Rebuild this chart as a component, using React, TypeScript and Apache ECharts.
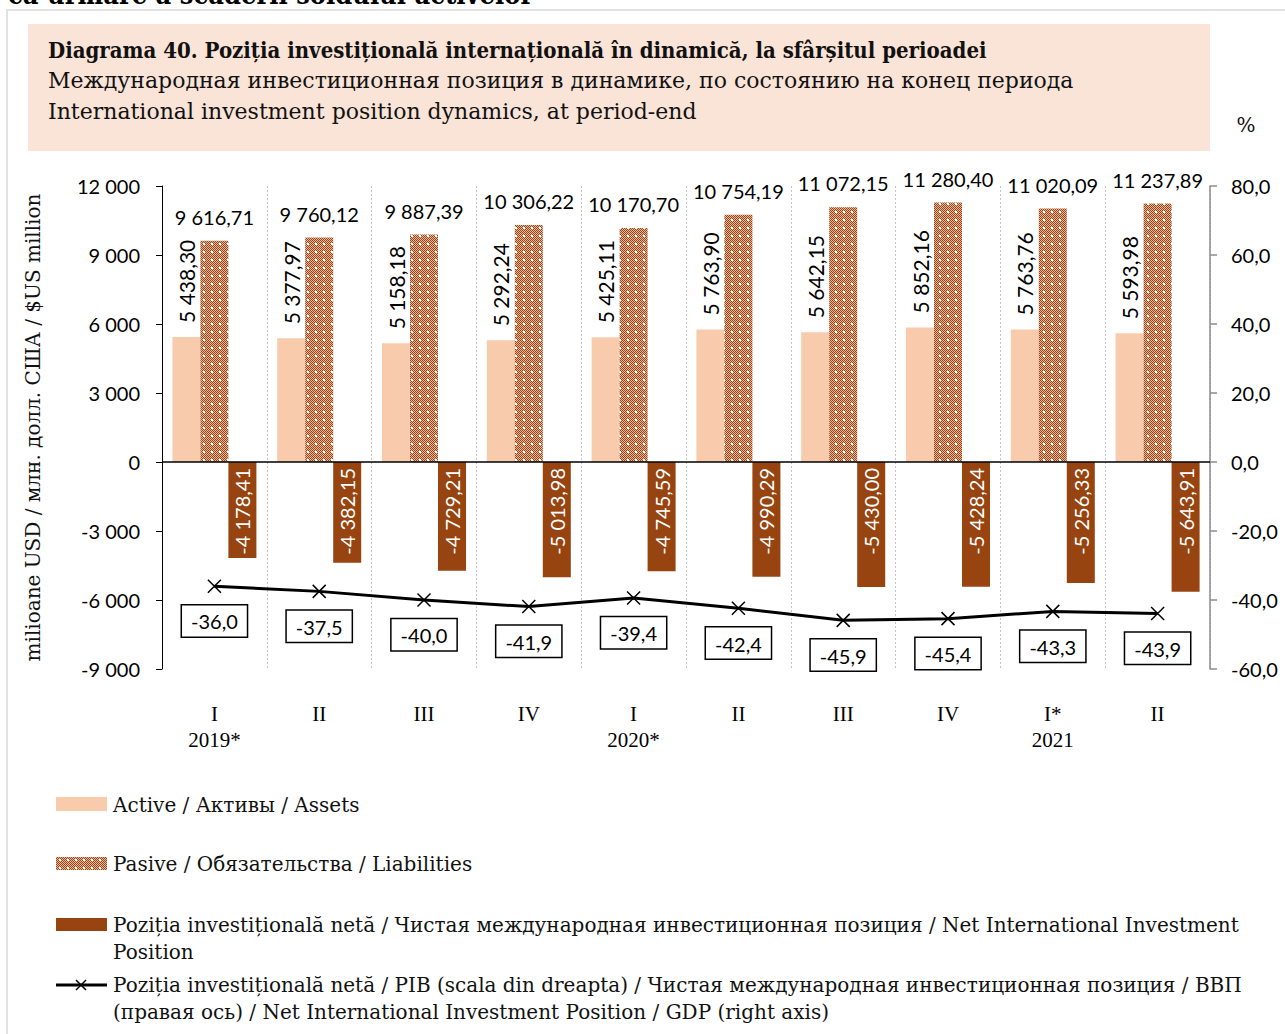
import React, { useEffect, useRef } from "react";
import * as echarts from "echarts";

const categories = ["I\n2019*", "II", "III", "IV", "I\n2020*", "II", "III", "IV", "I*\n2021", "II"];
const assets = [5438.3, 5377.97, 5158.18, 5292.24, 5425.11, 5763.9, 5642.15, 5852.16, 5763.76, 5593.98];
const liabilities = [9616.71, 9760.12, 9887.39, 10306.22, 10170.7, 10754.19, 11072.15, 11280.4, 11020.09, 11237.89];
const netPosition = [-4178.41, -4382.15, -4729.21, -5013.98, -4745.59, -4990.29, -5430.0, -5428.24, -5256.33, -5643.91];
const ratioGdp = [-36.0, -37.5, -40.0, -41.9, -39.4, -42.4, -45.9, -45.4, -43.3, -43.9];

const titleLines = [
  "Diagrama 40. Poziția investițională internațională în dinamică, la sfârșitul perioadei",
  "Международная инвестиционная позиция в динамике, по состоянию на конец периода",
  "International investment position dynamics, at period-end",
];
const seriesNames = [
  "Active / Активы / Assets",
  "Pasive / Обязательства / Liabilities",
  "Poziția investițională netă / Чистая международная инвестиционная позиция / Net International Investment\nPosition",
  "Poziția investițională netă / PIB (scala din dreapta) / Чистая международная инвестиционная позиция / ВВП\n(правая ось) / Net International Investment Position / GDP (right axis)",
];
const yAxisName = "milioane USD / млн. долл. США / $US million";
const topText = "ca urmare a scăderii soldului activelor";

const SERIF_C = "'DejaVu Serif Condensed', 'DejaVu Serif', serif";
const SERIF = "'DejaVu Serif', serif";
const NUM = "Lato, sans-serif";
const CAT = "'Liberation Serif', serif";

const ASSET_COLOR = "#F8CBAD";
const NET_COLOR = "#974410";
const PAT_BROWN = "#9A4516";

function groupInt(n: number): string {
  const s = String(n);
  return s.replace(/\B(?=(\d{3})+(?!\d))/g, " ");
}
function fmtNum(v: number, dec: number): string {
  const neg = v < 0;
  const a = Math.abs(v).toFixed(dec);
  const [ip, fp] = a.split(".");
  let out = groupInt(parseInt(ip, 10));
  if (dec > 0) out += "," + fp;
  return (neg ? "-" : "") + out;
}

function makePattern(): HTMLCanvasElement {
  const c = document.createElement("canvas");
  c.width = 8;
  c.height = 8;
  const ctx = c.getContext("2d")!;
  for (let y = 0; y < 8; y++) {
    for (let x = 0; x < 8; x++) {
      let col = (x + y) % 2 === 0 ? PAT_BROWN : "#E2B99E";
      if ((x === 3 || x === 4) && (y === 3 || y === 4)) col = "#ffffff";
      ctx.fillStyle = col;
      ctx.fillRect(x, y, 1, 1);
    }
  }
  return c;
}

export default function App() {
  const ref = useRef<HTMLDivElement>(null);
  useEffect(() => {
    if (!ref.current) return;
    const chart = echarts.init(ref.current, undefined, { renderer: "svg" });
    const pat = makePattern();
    const patFill = { image: pat, repeat: "repeat" } as any;

    const legendTop = [804, 863, 924, 984];
    const graphic: any[] = [
      {
        type: "text",
        left: 8,
        top: -19,
        style: { text: topText, font: `bold 27px ${SERIF_C}`, fill: "#000" },
      },
      {
        type: "rect",
        shape: { x: 7, y: 10, width: 1300, height: 1050 },
        style: { fill: "none", stroke: "#e2e2e2", lineWidth: 2 },
        z: -10,
      },
      {
        type: "rect",
        shape: { x: 28, y: 24, width: 1182, height: 127 },
        style: { fill: "#FAE4D7" },
        z: -5,
      },
      {
        type: "text",
        x: 48,
        y: 50,
        style: { text: titleLines[0], font: `bold 22px ${SERIF_C}`, fill: "#111", verticalAlign: "middle" },
      },
      {
        type: "text",
        x: 48,
        y: 80,
        style: { text: titleLines[1], font: `22px ${SERIF}`, fill: "#111", verticalAlign: "middle" },
      },
      {
        type: "text",
        x: 48,
        y: 111,
        style: { text: titleLines[2], font: `22px ${SERIF}`, fill: "#111", verticalAlign: "middle" },
      },
      {
        type: "text",
        x: 1246,
        y: 125,
        style: { text: "%", font: `20px ${SERIF}`, fill: "#111", align: "center", verticalAlign: "middle" },
      },
      // legend swatches
      { type: "rect", shape: { x: 56, y: 797, width: 51, height: 14 }, style: { fill: ASSET_COLOR } },
      { type: "rect", shape: { x: 56, y: 857, width: 51, height: 13 }, style: { fill: patFill } },
      { type: "rect", shape: { x: 56, y: 918, width: 51, height: 13 }, style: { fill: NET_COLOR } },
      { type: "line", shape: { x1: 56, y1: 985, x2: 107, y2: 985 }, style: { stroke: "#000", lineWidth: 3 } },
      { type: "line", shape: { x1: 76, y1: 980, x2: 86, y2: 990 }, style: { stroke: "#000", lineWidth: 1.5 } },
      { type: "line", shape: { x1: 86, y1: 980, x2: 76, y2: 990 }, style: { stroke: "#000", lineWidth: 1.5 } },
    ];
    seriesNames.forEach((n, i) => {
      graphic.push({
        type: "text",
        x: 113,
        y: legendTop[i] - 13,
        style: { text: n, font: `20px ${SERIF}`, fill: "#111", lineHeight: 27, verticalAlign: "top" },
      });
    });

    const option: any = {
      animation: false,
      backgroundColor: "#fff",
      grid: { left: 162, top: 186, width: 1048, height: 483, containLabel: false },
      xAxis: {
        type: "category",
        data: categories,
        position: "bottom",
        axisLine: { show: false, onZero: false },
        axisTick: { show: false },
        axisLabel: { margin: 32, fontFamily: CAT, fontSize: 21, lineHeight: 26, color: "#000" },
        splitLine: { show: true, lineStyle: { color: "#c4c4c4", type: [2, 2], width: 1 } },
      },
      yAxis: [
        {
          type: "value",
          min: -9000,
          max: 12000,
          interval: 3000,
          axisLine: { show: true, lineStyle: { color: "#000", width: 1 } },
          axisTick: { show: true, length: 6, lineStyle: { color: "#000" } },
          axisLabel: {
            margin: 22,
            fontFamily: NUM,
            fontSize: 20,
            color: "#000",
            formatter: (v: number) => fmtNum(v, 0),
          },
          splitLine: { show: false },
          name: yAxisName,
          nameLocation: "middle",
          nameGap: 119,
          nameRotate: 90,
          nameTextStyle: { fontFamily: SERIF, fontSize: 20, color: "#111" },
        },
        {
          type: "value",
          position: "right",
          min: -60,
          max: 80,
          interval: 20,
          axisLine: { show: true, lineStyle: { color: "#8c8c8c", width: 1.5 } },
          axisTick: { show: true, length: 7, lineStyle: { color: "#8c8c8c", width: 1.5 } },
          axisLabel: {
            margin: 21,
            fontFamily: NUM,
            fontSize: 20,
            color: "#000",
            formatter: (v: number) => v.toFixed(1).replace(".", ","),
          },
          splitLine: { show: false },
        },
      ],
      graphic,
      series: [
        {
          type: "bar",
          name: "Active",
          data: assets,
          barWidth: 28,
          barGap: "0%",
          itemStyle: { color: ASSET_COLOR },
          label: {
            show: true,
            position: "top",
            distance: 14,
            rotate: 90,
            align: "left",
            verticalAlign: "middle",
            fontFamily: NUM,
            fontSize: 21,
            color: "#000",
            formatter: (p: any) => fmtNum(p.value, 2),
          },
        },
        {
          type: "bar",
          name: "Pasive",
          data: liabilities,
          barWidth: 28,
          barGap: "0%",
          itemStyle: { color: patFill },
          label: {
            show: true,
            position: "top",
            distance: 14,
            fontFamily: NUM,
            fontSize: 20,
            color: "#000",
            formatter: (p: any) => fmtNum(p.value, 2),
          },
        },
        {
          type: "bar",
          name: "Net",
          data: netPosition,
          barWidth: 28,
          barGap: "0%",
          itemStyle: { color: NET_COLOR },
          label: {
            show: true,
            position: "insideTop",
            distance: 6,
            rotate: 90,
            align: "right",
            verticalAlign: "middle",
            fontFamily: NUM,
            fontSize: 20,
            color: "#fff",
            formatter: (p: any) => fmtNum(p.value, 2),
          },
          markLine: {
            silent: true,
            symbol: ["none", "none"],
            label: { show: false },
            lineStyle: { color: "#000", width: 1.5, type: "solid" },
            data: [{ yAxis: 0 }],
          },
        },
        {
          type: "line",
          name: "Ratio",
          yAxisIndex: 1,
          data: ratioGdp,
          symbol: "path://M0,0L10,10M10,0L0,10",
          symbolSize: 13,
          lineStyle: { color: "#000", width: 3 },
          itemStyle: { color: "#000", borderColor: "#000", borderWidth: 1.5 },
          z: 5,
          label: {
            show: true,
            position: "bottom",
            distance: 12,
            fontFamily: NUM,
            fontSize: 20,
            color: "#000",
            backgroundColor: "#fff",
            borderColor: "#000",
            borderWidth: 1.5,
            padding: [6, 9, 5, 9],
            formatter: (p: any) => p.value.toFixed(1).replace(".", ","),
          },
        },
      ],
    };
    chart.setOption(option);
    return () => chart.dispose();
  }, []);
  return (
    <div
      ref={ref}
      style={{ position: "absolute", left: 0, top: 0, width: 1285, height: 1034 }}
    />
  );
}
